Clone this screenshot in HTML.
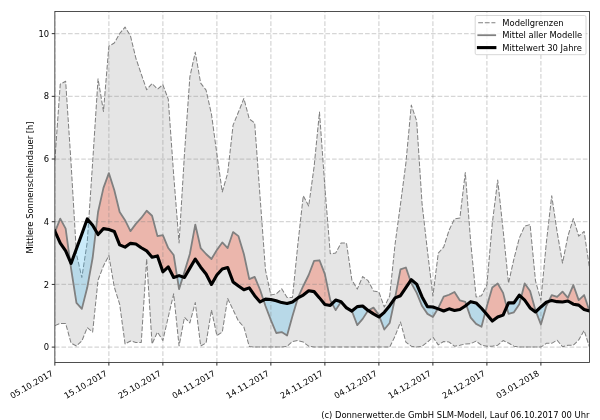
<!DOCTYPE html>
<html lang="de"><head><meta charset="utf-8"><title>Mittlere Sonnenscheindauer</title>
<style>html,body{margin:0;padding:0;background:#fff}svg{display:block}.c{filter:blur(0.35px)}.t{filter:blur(0.22px)}text{font-family:"DejaVu Sans","Liberation Sans",sans-serif;fill:#000}</style></head><body>
<svg width="600" height="420" viewBox="0 0 600 420">
<rect width="600" height="420" fill="#fff"/>
<defs><clipPath id="ax"><rect x="54.85" y="11.55" width="534.65" height="350.95"/></clipPath></defs>
<g class="c">
<g clip-path="url(#ax)">
<polygon points="54.85,160.6 60.25,84.12 65.65,81.29 71.05,163.1 76.45,254.01 81.85,277.51 87.25,242.09 92.65,162.16 98.05,78.79 103.46,111.39 108.86,46.19 114.26,43.05 119.66,33.65 125.06,27.07 130.46,35.84 135.86,58.1 141.26,74.09 146.66,89.76 152.06,83.49 157.46,89.13 162.86,84.74 168.26,99.16 173.66,174.7 179.06,243.03 184.46,154.01 189.86,76.91 195.27,52.14 200.67,83.18 206.07,90.07 211.47,114.21 216.87,154.01 222.27,191.94 227.67,173.14 233.07,125.18 238.47,112.01 243.87,98.53 249.27,118.91 254.67,122.98 260.07,196.96 265.47,269.99 270.87,295.07 276.27,293.81 281.68,288.8 287.08,297.57 292.48,297.57 297.88,243.97 303.28,195.7 308.68,206.05 314.08,166.87 319.48,112.01 324.88,187.24 330.28,253.69 335.68,253.07 341.08,243.03 346.48,243.03 351.88,280.02 357.28,289.11 362.68,276.57 368.08,280.65 373.49,290.99 378.89,291.93 384.29,306.98 389.69,296.01 395.09,243.97 400.49,204.17 405.89,163.1 411.29,105.12 416.69,121.1 422.09,204.17 427.49,251.18 432.89,296.01 438.29,253.07 443.69,247.11 449.09,230.18 454.49,218.9 459.9,217.96 465.3,172.51 470.7,242.09 476.1,296.95 481.5,295.69 486.9,284.72 492.3,223.29 497.7,180.03 503.1,229.87 508.5,283.16 513.9,259.02 519.3,238.02 524.7,226.11 530.1,224.54 535.5,280.96 540.9,300.08 546.3,243.03 551.71,195.7 557.11,231.75 562.51,263.1 567.91,236.14 573.31,218.59 578.71,236.14 584.11,231.44 589.51,268.11 589.51,347.1 584.11,330.49 578.71,339.89 573.31,345.22 567.91,345.22 562.51,346.79 557.11,340.2 551.71,343.34 546.3,343.34 540.9,347.1 535.5,347.1 530.1,347.1 524.7,347.1 519.3,347.1 513.9,346.16 508.5,343.03 503.1,340.52 497.7,345.22 492.3,346.16 486.9,346.16 481.5,345.22 476.1,341.14 470.7,343.65 465.3,343.97 459.9,345.22 454.49,346.16 449.09,342.08 443.69,341.46 438.29,344.91 432.89,337.07 427.49,342.08 422.09,346.16 416.69,347.1 411.29,346.16 405.89,342.08 400.49,322.02 395.09,336.13 389.69,347.1 384.29,347.1 378.89,347.1 373.49,347.1 368.08,347.1 362.68,347.1 357.28,347.1 351.88,347.1 346.48,347.1 341.08,347.1 335.68,347.1 330.28,347.1 324.88,347.1 319.48,347.1 314.08,347.1 308.68,346.16 303.28,342.08 297.88,340.52 292.48,341.46 287.08,346.47 281.68,347.1 276.27,347.1 270.87,347.1 265.47,347.1 260.07,347.1 254.67,347.1 249.27,346.47 243.87,327.04 238.47,321.08 233.07,309.8 227.67,298.52 222.27,332.05 216.87,335.5 211.47,310.11 206.07,343.03 200.67,346 195.27,302.59 189.86,322.96 184.46,317.32 179.06,346 173.66,293.81 168.26,317.01 162.86,340.52 157.46,332.05 152.06,343.97 146.66,259.02 141.26,342.4 135.86,342.4 130.46,340.99 125.06,343.97 119.66,304.16 114.26,286.92 108.86,255.57 103.46,265.92 98.05,280.02 92.65,332.05 87.25,327.67 81.85,340.99 76.45,346 71.05,343.03 65.65,323.4 60.25,323.4 54.85,325.6" fill="#e5e5e5"/>
<path d="M54.85 325.6L60.25 323.4L65.65 323.4L71.05 343.03L76.45 346L81.85 340.99L87.25 327.67L92.65 332.05L98.05 280.02L103.46 265.92L108.86 255.57L114.26 286.92L119.66 304.16L125.06 343.97L130.46 340.99L135.86 342.4L141.26 342.4L146.66 259.02L152.06 343.97L157.46 332.05L162.86 340.52L168.26 317.01L173.66 293.81L179.06 346L184.46 317.32L189.86 322.96L195.27 302.59L200.67 346L206.07 343.03L211.47 310.11L216.87 335.5L222.27 332.05L227.67 298.52L233.07 309.8L238.47 321.08L243.87 327.04L249.27 346.47L254.67 347.1L260.07 347.1L265.47 347.1L270.87 347.1L276.27 347.1L281.68 347.1L287.08 346.47L292.48 341.46L297.88 340.52L303.28 342.08L308.68 346.16L314.08 347.1L319.48 347.1L324.88 347.1L330.28 347.1L335.68 347.1L341.08 347.1L346.48 347.1L351.88 347.1L357.28 347.1L362.68 347.1L368.08 347.1L373.49 347.1L378.89 347.1L384.29 347.1L389.69 347.1L395.09 336.13L400.49 322.02L405.89 342.08L411.29 346.16L416.69 347.1L422.09 346.16L427.49 342.08L432.89 337.07L438.29 344.91L443.69 341.46L449.09 342.08L454.49 346.16L459.9 345.22L465.3 343.97L470.7 343.65L476.1 341.14L481.5 345.22L486.9 346.16L492.3 346.16L497.7 345.22L503.1 340.52L508.5 343.03L513.9 346.16L519.3 347.1L524.7 347.1L530.1 347.1L535.5 347.1L540.9 347.1L546.3 343.34L551.71 343.34L557.11 340.2L562.51 346.79L567.91 345.22L573.31 345.22L578.71 339.89L584.11 330.49L589.51 347.1" fill="none" stroke="#808080" stroke-width="1.02" stroke-dasharray="4.8 1.8" stroke-linejoin="round"/>
<path d="M54.85 160.6L60.25 84.12L65.65 81.29L71.05 163.1L76.45 254.01L81.85 277.51L87.25 242.09L92.65 162.16L98.05 78.79L103.46 111.39L108.86 46.19L114.26 43.05L119.66 33.65L125.06 27.07L130.46 35.84L135.86 58.1L141.26 74.09L146.66 89.76L152.06 83.49L157.46 89.13L162.86 84.74L168.26 99.16L173.66 174.7L179.06 243.03L184.46 154.01L189.86 76.91L195.27 52.14L200.67 83.18L206.07 90.07L211.47 114.21L216.87 154.01L222.27 191.94L227.67 173.14L233.07 125.18L238.47 112.01L243.87 98.53L249.27 118.91L254.67 122.98L260.07 196.96L265.47 269.99L270.87 295.07L276.27 293.81L281.68 288.8L287.08 297.57L292.48 297.57L297.88 243.97L303.28 195.7L308.68 206.05L314.08 166.87L319.48 112.01L324.88 187.24L330.28 253.69L335.68 253.07L341.08 243.03L346.48 243.03L351.88 280.02L357.28 289.11L362.68 276.57L368.08 280.65L373.49 290.99L378.89 291.93L384.29 306.98L389.69 296.01L395.09 243.97L400.49 204.17L405.89 163.1L411.29 105.12L416.69 121.1L422.09 204.17L427.49 251.18L432.89 296.01L438.29 253.07L443.69 247.11L449.09 230.18L454.49 218.9L459.9 217.96L465.3 172.51L470.7 242.09L476.1 296.95L481.5 295.69L486.9 284.72L492.3 223.29L497.7 180.03L503.1 229.87L508.5 283.16L513.9 259.02L519.3 238.02L524.7 226.11L530.1 224.54L535.5 280.96L540.9 300.08L546.3 243.03L551.71 195.7L557.11 231.75L562.51 263.1L567.91 236.14L573.31 218.59L578.71 236.14L584.11 231.44L589.51 268.11" fill="none" stroke="#808080" stroke-width="1.02" stroke-dasharray="4.8 1.8" stroke-linejoin="round"/>
<polygon points="55.11,231.7 60.25,218.59 65.65,228.62 70.06,261.1 70.06,261.1 65.65,250.87 60.25,243.03 55.11,231.7" fill="#f28874" fill-opacity="0.5"/>
<polygon points="95.85,230.72 98.05,212 103.46,187.87 108.86,173.14 114.26,190.06 119.66,212 125.06,220.15 130.46,231.12 135.86,223.91 141.26,217.96 146.66,210.75 152.06,215.76 157.46,236.14 162.86,235.2 168.26,248.05 173.66,254.95 177.04,276.34 177.04,276.34 173.66,277.51 168.26,266.86 162.86,271.87 157.46,255.89 152.06,257.14 146.66,250.87 141.26,247.74 135.86,243.97 130.46,243.35 125.06,247.11 119.66,244.92 114.26,231.44 108.86,229.56 103.46,228.62 98.05,234.57 95.85,230.72" fill="#f28874" fill-opacity="0.5"/>
<polygon points="182.87,276.96 184.46,271.87 189.86,254.01 195.27,224.54 200.67,248.05 206.07,254.01 211.47,259.02 216.87,249.93 222.27,242.41 227.67,248.05 233.07,232.06 238.47,236.14 243.87,254.01 249.27,279.08 254.67,276.89 260.07,289.74 263.53,300.16 263.53,300.16 260.07,301.96 254.67,295.69 249.27,287.86 243.87,289.74 238.47,285.98 233.07,281.9 227.67,267.48 222.27,269.05 216.87,275.01 211.47,284.41 206.07,274.07 200.67,267.17 195.27,259.02 189.86,268.11 184.46,277.51 182.87,276.96" fill="#f28874" fill-opacity="0.5"/>
<polygon points="297.88,297.89 303.28,285.98 308.68,275.01 314.08,260.9 319.48,260.27 324.88,274.07 330.28,300.08 332.15,303.56 332.15,303.56 330.28,305.41 324.88,304.47 319.48,297.89 314.08,291.62 308.68,290.68 303.28,295.07 297.88,297.89" fill="#f28874" fill-opacity="0.5"/>
<polygon points="341.08,301.65 346.48,306.98 351.88,311.05 351.88,311.05 346.48,307.92 341.08,301.65" fill="#f28874" fill-opacity="0.5"/>
<polygon points="368.08,310.43 373.49,307.61 378.89,315.13 379.42,316.55 379.42,316.55 378.89,317.01 373.49,313.87 368.08,310.43" fill="#f28874" fill-opacity="0.5"/>
<polygon points="395.09,297.89 400.49,269.36 405.89,267.48 410.5,280.86 410.5,280.86 405.89,287.54 400.49,295.69 395.09,297.89" fill="#f28874" fill-opacity="0.5"/>
<polygon points="437.83,308.7 438.29,307.92 443.69,296.63 449.09,294.75 454.49,291.93 459.9,300.4 465.3,301.96 466.39,305.15 466.39,305.15 465.3,306.04 459.9,309.49 454.49,310.43 449.09,308.86 443.69,311.05 438.29,308.86 437.83,308.7" fill="#f28874" fill-opacity="0.5"/>
<polygon points="485.2,312.53 486.9,306.04 492.3,287.54 497.7,283.47 503.1,292.87 506.72,306.94 506.72,306.94 503.1,315.13 497.7,317.01 492.3,321.08 486.9,314.5 485.2,312.53" fill="#f28874" fill-opacity="0.5"/>
<polygon points="521.21,296.84 524.7,283.47 530.1,290.99 535.5,310.43 535.95,311.58 535.95,311.58 535.5,311.99 530.1,307.92 524.7,300.08 521.21,296.84" fill="#f28874" fill-opacity="0.5"/>
<polygon points="548.54,301.5 551.71,295.07 557.11,296.95 562.51,291.62 567.91,297.89 573.31,285.04 578.71,300.08 584.11,295.07 589.51,311.05 589.51,311.05 584.11,309.49 578.71,305.1 573.31,304.16 567.91,301.02 562.51,301.96 557.11,301.65 551.71,300.4 548.54,301.5" fill="#f28874" fill-opacity="0.5"/>
<polygon points="54.85,232.38 55.11,231.7 55.11,231.7 54.85,231.12" fill="#51bcee" fill-opacity="0.3"/>
<polygon points="70.06,261.1 71.05,268.42 76.45,302.9 81.85,308.86 87.25,287.54 92.65,257.77 95.85,230.72 95.85,230.72 92.65,225.17 87.25,218.9 81.85,233.94 76.45,248.68 71.05,263.41 70.06,261.1" fill="#51bcee" fill-opacity="0.3"/>
<polygon points="177.04,276.34 179.06,289.11 182.87,276.96 182.87,276.96 179.06,275.63 177.04,276.34" fill="#51bcee" fill-opacity="0.3"/>
<polygon points="263.53,300.16 265.47,306.04 270.87,320.14 276.27,332.99 281.68,332.05 287.08,335.5 292.48,316.07 297.88,297.89 297.88,297.89 292.48,301.96 287.08,303.53 281.68,302.59 276.27,300.71 270.87,299.46 265.47,299.14 263.53,300.16" fill="#51bcee" fill-opacity="0.3"/>
<polygon points="332.15,303.56 335.68,310.11 341.08,301.65 341.08,301.65 335.68,300.08 332.15,303.56" fill="#51bcee" fill-opacity="0.3"/>
<polygon points="351.88,311.05 357.28,325.16 362.68,318.89 368.08,310.43 368.08,310.43 362.68,306.04 357.28,306.66 351.88,311.05" fill="#51bcee" fill-opacity="0.3"/>
<polygon points="379.42,316.55 384.29,329.55 389.69,322.96 395.09,297.89 395.09,297.89 389.69,305.72 384.29,312.31 379.42,316.55" fill="#51bcee" fill-opacity="0.3"/>
<polygon points="410.5,280.86 411.29,283.16 416.69,292.87 422.09,306.04 427.49,313.87 432.89,317.01 437.83,308.7 437.83,308.7 432.89,306.98 427.49,306.66 422.09,296.95 416.69,284.1 411.29,279.71 410.5,280.86" fill="#51bcee" fill-opacity="0.3"/>
<polygon points="466.39,305.15 470.7,317.64 476.1,323.9 481.5,326.73 485.2,312.53 485.2,312.53 481.5,308.23 476.1,302.9 470.7,301.65 466.39,305.15" fill="#51bcee" fill-opacity="0.3"/>
<polygon points="506.72,306.94 508.5,313.87 513.9,312.31 519.3,304.16 521.21,296.84 521.21,296.84 519.3,295.07 513.9,302.9 508.5,302.9 506.72,306.94" fill="#51bcee" fill-opacity="0.3"/>
<polygon points="535.95,311.58 540.9,324.53 546.3,306.04 548.54,301.5 548.54,301.5 546.3,302.28 540.9,306.98 535.95,311.58" fill="#51bcee" fill-opacity="0.3"/>
<path d="M54.85 362.5V11.55M108.86 362.5V11.55M162.86 362.5V11.55M216.87 362.5V11.55M270.87 362.5V11.55M324.88 362.5V11.55M378.89 362.5V11.55M432.89 362.5V11.55M486.9 362.5V11.55M540.9 362.5V11.55" fill="none" stroke="#808080" stroke-opacity="0.32" stroke-width="1.25" stroke-dasharray="4.6 2.0"/>
<path d="M54.85 347.1H589.5M54.85 284.41H589.5M54.85 221.72H589.5M54.85 159.03H589.5M54.85 96.34H589.5M54.85 33.65H589.5" fill="none" stroke="#808080" stroke-opacity="0.32" stroke-width="1.25" stroke-dasharray="4.6 2.0"/>
<path d="M54.85 232.38L60.25 218.59L65.65 228.62L71.05 268.42L76.45 302.9L81.85 308.86L87.25 287.54L92.65 257.77L98.05 212L103.46 187.87L108.86 173.14L114.26 190.06L119.66 212L125.06 220.15L130.46 231.12L135.86 223.91L141.26 217.96L146.66 210.75L152.06 215.76L157.46 236.14L162.86 235.2L168.26 248.05L173.66 254.95L179.06 289.11L184.46 271.87L189.86 254.01L195.27 224.54L200.67 248.05L206.07 254.01L211.47 259.02L216.87 249.93L222.27 242.41L227.67 248.05L233.07 232.06L238.47 236.14L243.87 254.01L249.27 279.08L254.67 276.89L260.07 289.74L265.47 306.04L270.87 320.14L276.27 332.99L281.68 332.05L287.08 335.5L292.48 316.07L297.88 297.89L303.28 285.98L308.68 275.01L314.08 260.9L319.48 260.27L324.88 274.07L330.28 300.08L335.68 310.11L341.08 301.65L346.48 306.98L351.88 311.05L357.28 325.16L362.68 318.89L368.08 310.43L373.49 307.61L378.89 315.13L384.29 329.55L389.69 322.96L395.09 297.89L400.49 269.36L405.89 267.48L411.29 283.16L416.69 292.87L422.09 306.04L427.49 313.87L432.89 317.01L438.29 307.92L443.69 296.63L449.09 294.75L454.49 291.93L459.9 300.4L465.3 301.96L470.7 317.64L476.1 323.9L481.5 326.73L486.9 306.04L492.3 287.54L497.7 283.47L503.1 292.87L508.5 313.87L513.9 312.31L519.3 304.16L524.7 283.47L530.1 290.99L535.5 310.43L540.9 324.53L546.3 306.04L551.71 295.07L557.11 296.95L562.51 291.62L567.91 297.89L573.31 285.04L578.71 300.08L584.11 295.07L589.51 311.05" fill="none" stroke="#808080" stroke-width="1.8" stroke-linejoin="round" stroke-linecap="square"/>
<path d="M54.85 231.12L60.25 243.03L65.65 250.87L71.05 263.41L76.45 248.68L81.85 233.94L87.25 218.9L92.65 225.17L98.05 234.57L103.46 228.62L108.86 229.56L114.26 231.44L119.66 244.92L125.06 247.11L130.46 243.35L135.86 243.97L141.26 247.74L146.66 250.87L152.06 257.14L157.46 255.89L162.86 271.87L168.26 266.86L173.66 277.51L179.06 275.63L184.46 277.51L189.86 268.11L195.27 259.02L200.67 267.17L206.07 274.07L211.47 284.41L216.87 275.01L222.27 269.05L227.67 267.48L233.07 281.9L238.47 285.98L243.87 289.74L249.27 287.86L254.67 295.69L260.07 301.96L265.47 299.14L270.87 299.46L276.27 300.71L281.68 302.59L287.08 303.53L292.48 301.96L297.88 297.89L303.28 295.07L308.68 290.68L314.08 291.62L319.48 297.89L324.88 304.47L330.28 305.41L335.68 300.08L341.08 301.65L346.48 307.92L351.88 311.05L357.28 306.66L362.68 306.04L368.08 310.43L373.49 313.87L378.89 317.01L384.29 312.31L389.69 305.72L395.09 297.89L400.49 295.69L405.89 287.54L411.29 279.71L416.69 284.1L422.09 296.95L427.49 306.66L432.89 306.98L438.29 308.86L443.69 311.05L449.09 308.86L454.49 310.43L459.9 309.49L465.3 306.04L470.7 301.65L476.1 302.9L481.5 308.23L486.9 314.5L492.3 321.08L497.7 317.01L503.1 315.13L508.5 302.9L513.9 302.9L519.3 295.07L524.7 300.08L530.1 307.92L535.5 311.99L540.9 306.98L546.3 302.28L551.71 300.4L557.11 301.65L562.51 301.96L567.91 301.02L573.31 304.16L578.71 305.1L584.11 309.49L589.51 311.05" fill="none" stroke="#000" stroke-width="3.1" stroke-linejoin="round" stroke-linecap="square"/>
</g>
<rect x="54.85" y="11.55" width="534.65" height="350.95" fill="none" stroke="#303030" stroke-width="0.85"/>
<path d="M54.85 362.5v3.1M108.86 362.5v3.1M162.86 362.5v3.1M216.87 362.5v3.1M270.87 362.5v3.1M324.88 362.5v3.1M378.89 362.5v3.1M432.89 362.5v3.1M486.9 362.5v3.1M540.9 362.5v3.1M54.85 347.1h-3.1M54.85 284.41h-3.1M54.85 221.72h-3.1M54.85 159.03h-3.1M54.85 96.34h-3.1M54.85 33.65h-3.1" fill="none" stroke="#222" stroke-width="0.95"/>
</g>
<g class="t">
<text x="49.05" y="350.2" font-size="8.38" text-anchor="end">0</text>
<text x="49.05" y="287.51" font-size="8.38" text-anchor="end">2</text>
<text x="49.05" y="224.82" font-size="8.38" text-anchor="end">4</text>
<text x="49.05" y="162.13" font-size="8.38" text-anchor="end">6</text>
<text x="49.05" y="99.44" font-size="8.38" text-anchor="end">8</text>
<text x="49.05" y="36.75" font-size="8.38" text-anchor="end">10</text>
<text transform="translate(53.75,375) rotate(-30)" font-size="8.38" text-anchor="end">05.10.2017</text>
<text transform="translate(107.76,375) rotate(-30)" font-size="8.38" text-anchor="end">15.10.2017</text>
<text transform="translate(161.76,375) rotate(-30)" font-size="8.38" text-anchor="end">25.10.2017</text>
<text transform="translate(215.77,375) rotate(-30)" font-size="8.38" text-anchor="end">04.11.2017</text>
<text transform="translate(269.77,375) rotate(-30)" font-size="8.38" text-anchor="end">14.11.2017</text>
<text transform="translate(323.78,375) rotate(-30)" font-size="8.38" text-anchor="end">24.11.2017</text>
<text transform="translate(377.79,375) rotate(-30)" font-size="8.38" text-anchor="end">04.12.2017</text>
<text transform="translate(431.79,375) rotate(-30)" font-size="8.38" text-anchor="end">14.12.2017</text>
<text transform="translate(485.8,375) rotate(-30)" font-size="8.38" text-anchor="end">24.12.2017</text>
<text transform="translate(539.8,375) rotate(-30)" font-size="8.38" text-anchor="end">03.01.2018</text>
<text transform="translate(32.5,187.43) rotate(-90)" font-size="8.38" text-anchor="middle">Mittlere Sonnenscheindauer [h]</text>
<text x="589.4" y="417.8" font-size="8.38" text-anchor="end">(c) Donnerwetter.de GmbH SLM-Modell, Lauf 06.10.2017 00 Uhr</text>
</g>
<g class="c">
<rect x="475.2" y="15.5" width="110.8" height="39.2" rx="1.6" fill="#fff" fill-opacity="0.8" stroke="#cccccc" stroke-width="0.8"/>
<path d="M478.2 22.8h17.2" stroke="#808080" stroke-width="1.02" stroke-dasharray="4.8 1.8" fill="none"/>
<path d="M477.4 35.2h18.7" stroke="#808080" stroke-width="1.8" fill="none"/>
<path d="M476.9 47.6h19.5" stroke="#000" stroke-width="3.1" fill="none"/>
</g>
<g class="t">
<text x="502.3" y="25.8" font-size="8.38">Modellgrenzen</text>
<text x="502.3" y="38.2" font-size="8.38">Mittel aller Modelle</text>
<text x="502.3" y="50.6" font-size="8.38">Mittelwert 30 Jahre</text>
</g>
</svg></body></html>
